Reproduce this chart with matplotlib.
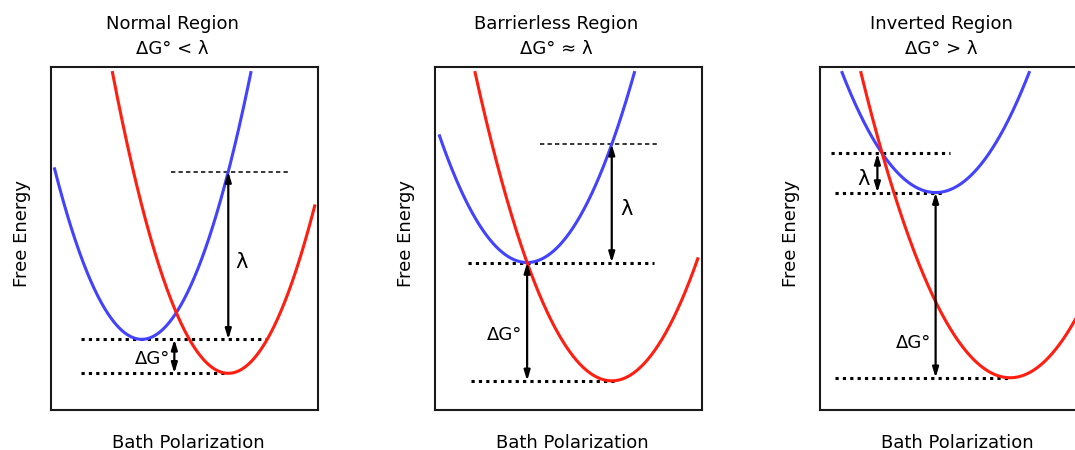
import numpy as np
import matplotlib
matplotlib.use("Agg")
import matplotlib.pyplot as plt

plt.rcParams["font.family"] = ["DejaVu Sans"]
plt.rcParams["lines.scale_dashes"] = False

# Marcus-theory free-energy parabolas for three regimes
region_titles = ["Normal Region", "Barrierless Region", "Inverted Region"]
region_conditions = ["ΔG° < λ", "ΔG° ≈ λ", "ΔG° > λ"]

# reactant (blue) and product (red) parabola minima and shared curvature
blue_x0 = [3.40, 3.45, 4.33]
blue_e0 = [2.06, 4.30, 6.34]
red_x0 = [6.64, 6.62, 7.12]
red_e0 = [1.07, 0.85, 0.94]
curvature = [0.466, 0.343, 0.285]

# where the curves stop (top of the plotted energy range / outer ends)
energy_top = 9.88
blue_left_end = [0.12, 0.15, None]
red_right_end = [9.89, 9.86, 10.6]

# horizontal guide-line extents (x start, x end)
top_line_span = [(4.49, 8.95), (3.93, 8.43), (0.41, 4.87)]
mid_line_span = [(1.11, 8.08), (1.22, 8.20), (0.56, 4.60)]
bot_line_span = [(1.11, 6.64), (1.35, 6.85), (0.56, 7.15)]

# arrow x positions
lambda_arrow_x = [6.64, 6.62, 2.15]
dg_arrow_x = [4.62, 3.45, 4.33]

# label anchors (data units); ΔG° labels are right-aligned against their arrow
lambda_label_xy = [(7.14, 4.32), (7.18, 5.86), (1.62, 6.73)]
dg_label_xy = [(4.45, 1.48), (3.26, 2.19), (4.15, 1.94)]

BLUE = "#4242ff"
RED = "#ff1e10"

fig = plt.figure(figsize=(10.75, 4.5), dpi=100)
lefts = [51 / 1075, 435 / 1075, 820 / 1075]
ax_w, ax_h, ax_b = 267 / 1075, 343 / 450, 40 / 450


def parabola(x, x0, e0, k):
    return e0 + k * (x - x0) ** 2


thick_dots = dict(color="black", lw=2.2, dashes=(2.3, 3.0), dash_capstyle="butt")
thin_dash = dict(color="black", lw=1.1, dashes=(3.1, 2.3), dash_capstyle="butt")
arrow_props = dict(arrowstyle="<|-|>,head_length=0.6,head_width=0.18",
                   lw=1.6, color="black", shrinkA=0, shrinkB=0, mutation_scale=10)

for i in range(3):
    ax = fig.add_axes([lefts[i], ax_b, ax_w, ax_h])
    ax.set_xlim(0, 10)
    ax.set_ylim(0, 10)
    ax.set_xticks([])
    ax.set_yticks([])
    for s in ax.spines.values():
        s.set_linewidth(1.5)
        s.set_color("#1a1a1a")

    k = curvature[i]
    bx, be = blue_x0[i], blue_e0[i]
    rx, re = red_x0[i], red_e0[i]

    # reactant curve (blue)
    b_right = bx + np.sqrt((energy_top - be) / k)
    b_left = blue_left_end[i] if blue_left_end[i] is not None else bx - np.sqrt((energy_top - be) / k)
    xb = np.linspace(b_left, b_right, 400)
    ax.plot(xb, parabola(xb, bx, be, k), color=BLUE, lw=2.2, solid_capstyle="butt", zorder=3)

    # product curve (red)
    r_left = rx - np.sqrt((energy_top - re) / k)
    xr = np.linspace(r_left, red_right_end[i], 400)
    ax.plot(xr, parabola(xr, rx, re, k), color=RED, lw=2.2, solid_capstyle="butt", zorder=3)

    # energy of the upper reference level
    if i < 2:
        e_upper = parabola(rx, bx, be, k)
        upper_style = thin_dash
    else:
        x_cross = (bx + rx) / 2 + (re - be) / (2 * k * (rx - bx))
        e_upper = parabola(x_cross, bx, be, k)
        upper_style = thick_dots

    ax.plot(top_line_span[i], [e_upper, e_upper], zorder=2, **upper_style)
    ax.plot(mid_line_span[i], [be, be], zorder=2, **thick_dots)
    ax.plot(bot_line_span[i], [re, re], zorder=2, **thick_dots)

    ax.annotate("", xy=(lambda_arrow_x[i], e_upper), xytext=(lambda_arrow_x[i], be),
                arrowprops=arrow_props, zorder=4)
    ax.annotate("", xy=(dg_arrow_x[i], be), xytext=(dg_arrow_x[i], re),
                arrowprops=arrow_props, zorder=4)

    ax.text(*lambda_label_xy[i], "λ", fontsize=15, ha="center", va="center")
    ax.text(*dg_label_xy[i], "ΔG°", fontsize=13, ha="right", va="center")

    ax.text(0.455, 1.112, region_titles[i], transform=ax.transAxes,
            fontsize=13, ha="center", va="baseline")
    ax.text(0.455, 1.039, region_conditions[i], transform=ax.transAxes,
            fontsize=13, ha="center", va="baseline")
    ax.text(0.515, -0.111, "Bath Polarization", transform=ax.transAxes,
            fontsize=13, ha="center", va="baseline")
    ax.text(-0.11, 0.516, "Free Energy", transform=ax.transAxes,
            fontsize=13, ha="center", va="center", rotation=90)

fig.savefig("out.png", dpi=100)
